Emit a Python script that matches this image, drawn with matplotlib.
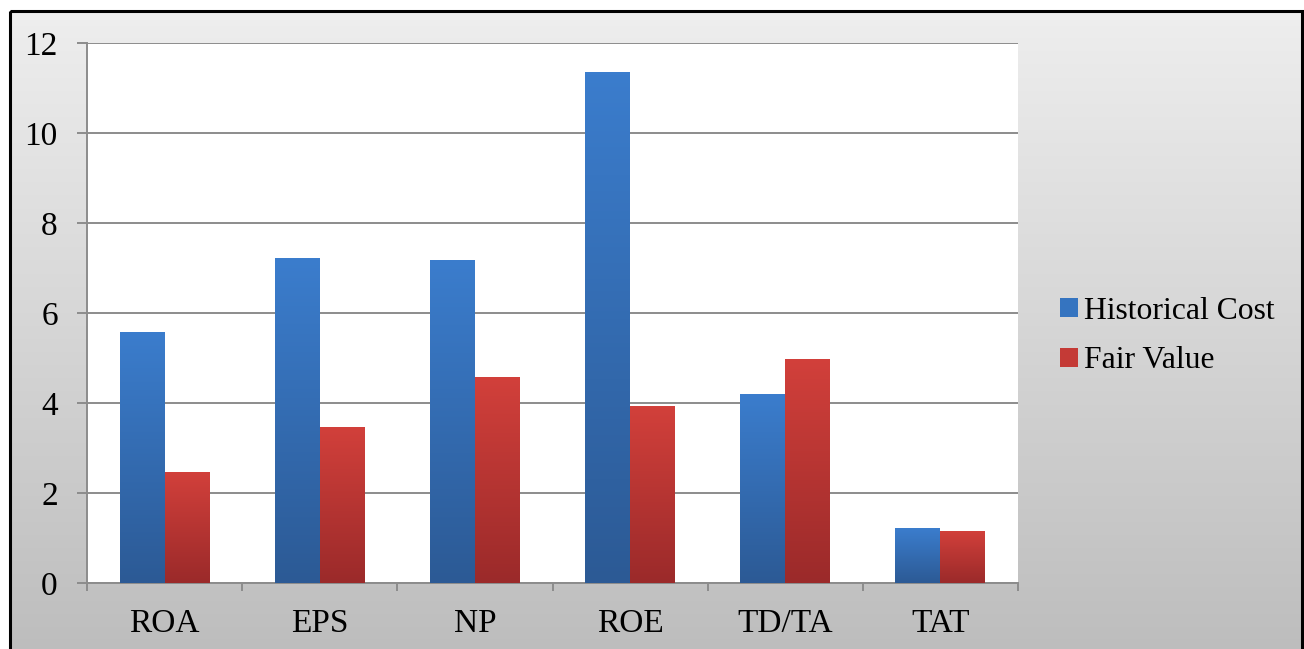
import matplotlib
matplotlib.use("Agg")
import matplotlib.pyplot as plt
import numpy as np
from matplotlib.colors import LinearSegmentedColormap
from matplotlib.patches import Rectangle

categories = ["ROA", "EPS", "NP", "ROE", "TD/TA", "TAT"]
historical_cost = [5.58, 7.22, 7.18, 11.36, 4.20, 1.22]
fair_value = [2.47, 3.47, 4.58, 3.93, 4.98, 1.16]
series_names = ["Historical Cost", "Fair Value"]
y_ticks = [0, 2, 4, 6, 8, 10, 12]

plt.rcParams['font.family'] = 'serif'
plt.rcParams['font.serif'] = ['Liberation Serif', 'DejaVu Serif']

W, H = 1304, 649
fig = plt.figure(figsize=(W / 100, H / 100), dpi=100)
fig.patch.set_facecolor("white")

# background panel with a grey gradient and black frame
bg = fig.add_axes([0, 0, 1, 1])
bg.set_xlim(0, W)
bg.set_ylim(H, 0)
bg.axis("off")
bg_cmap = LinearSegmentedColormap.from_list("bg", ["#eeeeee", "#bdbdbd"])
grad = np.linspace(0, 1, 256).reshape(-1, 1)
bg.imshow(grad, cmap=bg_cmap, extent=(10, 1302, H + 5, 11), aspect="auto", zorder=0)
bg.add_patch(Rectangle((10, 11), 1292, H, fill=False, edgecolor="black", linewidth=2.2, zorder=1))

ax = fig.add_axes([87 / W, 1 - 583 / H, (1018 - 87) / W, (583 - 43) / H])
ax.set_facecolor("white")

x = np.arange(len(categories))
width = 0.29
blue_cmap = LinearSegmentedColormap.from_list("b", ["#2c5a95", "#3b7dcd"])
red_cmap = LinearSegmentedColormap.from_list("r", ["#9b2a2a", "#d2403b"])

bars_hc = ax.bar(x - width / 2, historical_cost, width, color="#3574c0", zorder=3, label=series_names[0])
bars_fv = ax.bar(x + width / 2, fair_value, width, color="#c43a36", zorder=3, label=series_names[1])

# vertical gradient fill on every bar
for bars, cmap in [(bars_hc, blue_cmap), (bars_fv, red_cmap)]:
    for b in bars:
        x0, y0 = b.get_x(), b.get_y()
        w, h = b.get_width(), b.get_height()
        img = ax.imshow(np.linspace(0, 1, 128).reshape(-1, 1), cmap=cmap, origin="lower",
                        extent=(x0, x0 + w, y0, y0 + h), aspect="auto", zorder=4)
        img.set_clip_path(b)

ax.set_xlim(-0.5, len(categories) - 0.5)
ax.set_ylim(0, 12)
ax.set_aspect("auto")

grid_color = "#8c8c8c"
ax.set_yticks(y_ticks)
ax.set_yticklabels([str(t) for t in y_ticks])
ax.yaxis.grid(True, color=grid_color, linewidth=1.4, zorder=1)
ax.set_axisbelow(True)

ax.set_xticks(x)
ax.set_xticklabels(categories)
ax.set_xticks(np.arange(len(categories) + 1) - 0.5, minor=True)
ax.tick_params(axis="x", which="major", length=0, pad=18, labelsize=24)
ax.tick_params(axis="x", which="minor", length=6, width=1.4, color=grid_color, direction="out")
ax.tick_params(axis="y", length=7, width=1.4, color=grid_color, pad=14, labelsize=24)

for side in ["top", "right"]:
    ax.spines[side].set_visible(False)
for side in ["left", "bottom"]:
    ax.spines[side].set_color(grid_color)
    ax.spines[side].set_linewidth(1.4)

fig.legend(handles=[bars_hc, bars_fv], labels=series_names, loc="center left",
           bbox_to_anchor=(1060 / W, 1 - 336 / H), frameon=False, fontsize=22.8,
           borderpad=0, borderaxespad=0,
           handlelength=0.57, handleheight=0.57, handletextpad=0.2, labelspacing=0.66)

fig.savefig("out.png", dpi=100)
